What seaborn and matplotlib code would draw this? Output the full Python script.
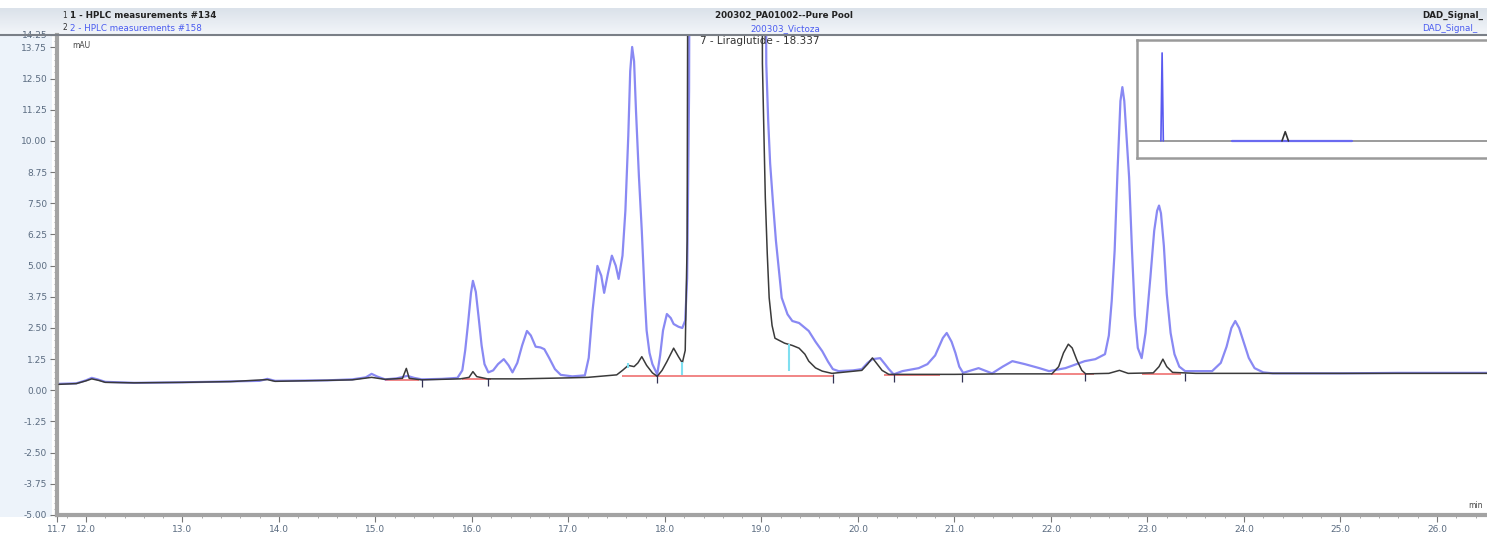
import numpy as np
import pandas as pd
import seaborn as sns
import matplotlib.pyplot as plt
from matplotlib.patches import Rectangle
from matplotlib.ticker import FixedLocator, MultipleLocator

# --- data (time in min, signal in mAU) ---
# trace 2: HPLC measurements #158 (200303_Victoza), blue
victoza_t = [11.72, 11.90, 12.00, 12.06, 12.12, 12.20, 12.50, 13.00, 13.50, 13.80,
             13.88, 13.96, 14.50, 14.76, 14.90, 14.96, 15.02, 15.10, 15.22, 15.33,
             15.40, 15.48, 15.69, 15.85, 15.90, 15.93, 15.96, 15.99, 16.01, 16.04,
             16.07, 16.10, 16.13, 16.17, 16.22, 16.27, 16.33, 16.38, 16.42, 16.47,
             16.52, 16.57, 16.61, 16.66, 16.71, 16.75, 16.80, 16.86, 16.92, 17.04,
             17.17, 17.21, 17.25, 17.30, 17.34, 17.37, 17.41, 17.45, 17.49, 17.52,
             17.56, 17.59, 17.62, 17.64, 17.66, 17.68, 17.70, 17.73, 17.76, 17.79,
             17.81, 17.84, 17.87, 17.92, 17.95, 17.98, 18.02, 18.06, 18.09, 18.14,
             18.18, 18.21, 18.23, 18.25, 18.27, 19.02, 19.05, 19.07, 19.09, 19.12,
             19.15, 19.21, 19.27, 19.32, 19.39, 19.49, 19.56, 19.63, 19.69, 19.74,
             19.80, 19.95, 20.04, 20.10, 20.15, 20.23, 20.28, 20.32, 20.37, 20.46,
             20.63, 20.72, 20.80, 20.88, 20.92, 20.97, 21.01, 21.05, 21.09, 21.25,
             21.39, 21.50, 21.60, 21.73, 21.88, 21.98, 22.15, 22.35, 22.46, 22.56,
             22.60, 22.63, 22.66, 22.69, 22.72, 22.74, 22.76, 22.79, 22.81, 22.84,
             22.87, 22.90, 22.94, 22.98, 23.03, 23.07, 23.10, 23.12, 23.14, 23.17,
             23.20, 23.24, 23.28, 23.33, 23.39, 23.67, 23.76, 23.82, 23.87, 23.91,
             23.95, 24.00, 24.05, 24.11, 24.20, 24.30, 25.00, 25.60, 26.54]
victoza_mau = [0.26, 0.28, 0.40, 0.50, 0.44, 0.34, 0.30, 0.32, 0.36, 0.38,
               0.46, 0.38, 0.40, 0.44, 0.52, 0.66, 0.55, 0.44, 0.48, 0.58,
               0.50, 0.44, 0.46, 0.50, 0.80, 1.60, 2.70, 3.90, 4.39, 3.95,
               2.90, 1.80, 1.05, 0.72, 0.80, 1.05, 1.25, 1.00, 0.72, 1.10,
               1.80, 2.38, 2.20, 1.75, 1.72, 1.65, 1.30, 0.85, 0.62, 0.56,
               0.60, 1.30, 3.20, 4.99, 4.60, 3.91, 4.70, 5.40, 5.00, 4.47,
               5.40, 7.20, 10.20, 12.80, 13.77, 13.20, 11.20, 8.60, 6.40, 3.80,
               2.40, 1.50, 1.05, 0.64, 1.40, 2.40, 3.06, 2.90, 2.66, 2.55,
               2.50, 2.80, 4.50, 12.00, 40.00, 40.00, 13.10, 10.80, 9.10, 7.50,
               6.00, 3.71, 3.05, 2.78, 2.70, 2.38, 1.95, 1.57, 1.15, 0.85,
               0.77, 0.80, 0.85, 1.10, 1.25, 1.29, 1.05, 0.85, 0.64, 0.77,
               0.89, 1.05, 1.40, 2.10, 2.30, 1.95, 1.50, 0.95, 0.70, 0.89,
               0.68, 0.95, 1.17, 1.05, 0.89, 0.77, 0.89, 1.17, 1.25, 1.45,
               2.20, 3.60, 5.60, 8.80, 11.60, 12.16, 11.60, 9.80, 8.54, 5.60,
               3.00, 1.70, 1.29, 2.30, 4.51, 6.40, 7.20, 7.41, 7.10, 5.80,
               3.87, 2.30, 1.45, 0.95, 0.77, 0.77, 1.10, 1.75, 2.50, 2.78,
               2.50, 1.90, 1.30, 0.89, 0.72, 0.68, 0.68, 0.70, 0.70]

# trace 1: HPLC measurements #134 (200302_PA01002--Pure Pool), dark grey
pool_t = [11.72, 11.90, 12.00, 12.06, 12.13, 12.20, 12.50, 13.00, 13.50, 13.88,
          13.96, 14.50, 14.76, 14.96, 15.10, 15.28, 15.32, 15.35, 15.48, 15.88,
          15.97, 16.01, 16.05, 16.16, 16.50, 17.00, 17.20, 17.50, 17.56, 17.62,
          17.68, 17.72, 17.76, 17.81, 17.87, 17.92, 17.97, 18.02, 18.09, 18.14,
          18.18, 18.21, 18.23, 18.25, 19.00, 19.01, 19.03, 19.04, 19.06, 19.08,
          19.11, 19.14, 19.24, 19.32, 19.39, 19.45, 19.49, 19.56, 19.63, 19.73,
          20.04, 20.10, 20.15, 20.19, 20.25, 20.32, 20.50, 21.00, 21.50, 22.01,
          22.08, 22.13, 22.18, 22.22, 22.27, 22.32, 22.36, 22.60, 22.71, 22.80,
          23.06, 23.12, 23.16, 23.20, 23.26, 23.50, 24.50, 26.54]
pool_mau = [0.24, 0.27, 0.38, 0.46, 0.40, 0.32, 0.30, 0.32, 0.35, 0.43,
            0.36, 0.40, 0.42, 0.52, 0.44, 0.48, 0.88, 0.48, 0.42, 0.46,
            0.52, 0.75, 0.55, 0.46, 0.46, 0.50, 0.52, 0.62, 0.80, 1.00,
            0.95, 1.10, 1.35, 1.00, 0.70, 0.56, 0.80, 1.15, 1.69, 1.35,
            1.10, 1.60, 6.00, 40.00, 40.00, 13.10, 9.50, 7.73, 5.50, 3.71,
            2.60, 2.09, 1.89, 1.80, 1.69, 1.45, 1.17, 0.90, 0.77, 0.68,
            0.80, 1.05, 1.30, 1.10, 0.80, 0.64, 0.64, 0.64, 0.66, 0.66,
            0.95, 1.50, 1.85, 1.70, 1.20, 0.80, 0.66, 0.68, 0.80, 0.68,
            0.70, 0.95, 1.25, 0.95, 0.72, 0.68, 0.68, 0.68]

# integration baselines (red) and peak markers
red_start = [15.10, 15.90, 17.55, 20.27, 22.00, 22.94]
red_end = [15.45, 16.20, 19.75, 20.85, 22.45, 23.35]
red_level = [0.42, 0.46, 0.58, 0.62, 0.66, 0.66]
cyan_t = [17.62, 18.18, 19.29]
cyan_low = [0.90, 0.62, 0.77]
cyan_high = [1.10, 1.15, 1.85]
delim_t = [15.48, 16.17, 17.92, 19.74, 20.37, 21.08, 22.35, 23.39]
delim_level = [0.42, 0.46, 0.58, 0.60, 0.62, 0.64, 0.66, 0.66]

# overview inset (whole run)
inset_spike_t = [2.95, 3.10, 3.25]
inset_spike_v = [0, 950, 0]
inset_window_t = [11.7, 26.5]
inset_window_v = [0, 0]
inset_pool_t = [17.9, 18.3, 18.7]
inset_pool_v = [0, 100, 0]

y_ticks = [-5.0, -3.75, -2.5, -1.25, 0.0, 1.25, 2.5, 3.75, 5.0, 6.25, 7.5,
           8.75, 10.0, 11.25, 12.5, 13.75, 14.25]
x_ticks = [11.7, 12.0, 13.0, 14.0, 15.0, 16.0, 17.0, 18.0, 19.0, 20.0, 21.0,
           22.0, 23.0, 24.0, 25.0, 26.0]

sns.set_style("white")
plt.rcParams['font.family'] = ['DejaVu Sans']

W, H = 1487, 539
fig = plt.figure(figsize=(W / 100, H / 100), dpi=100)

# light blue panel behind the y labels
bg = fig.add_axes([0, 22 / H, 52 / W, (H - 22 - 33) / H], zorder=-5)
bg.set_facecolor('#edf3fa')
bg.set_xticks([])
bg.set_yticks([])
for s in bg.spines.values():
    s.set_visible(False)

# header strip with gradient
hax = fig.add_axes([0, 1 - 35 / H, 1, 27 / H], zorder=-4)
grad = np.linspace(0, 1, 50).reshape(-1, 1)
hax.imshow(grad, aspect='auto', cmap=sns.blend_palette(['#dbe2ea', '#f3f6fa'], as_cmap=True),
           extent=[0, 1, 0, 1])
hax.set_axis_off()
fig.add_artist(plt.Line2D([0, 1], [1 - 35 / H, 1 - 35 / H], color='#7a7f87', lw=1.5,
                          transform=fig.transFigure))

ax = fig.add_axes([57 / W, 24 / H, (W - 57) / W, (515 - 35) / H])
sns.lineplot(x=victoza_t, y=victoza_mau, ax=ax, color='#7c7cf2', lw=1.6,
             sort=False, estimator=None, alpha=0.9, zorder=2)
sns.lineplot(x=pool_t, y=pool_mau, ax=ax, color='#3a3a3a', lw=1.1,
             sort=False, estimator=None, zorder=3)
ax.hlines(red_level, red_start, red_end, color='#f07c7c', lw=1.3, zorder=1)
ax.vlines(cyan_t, cyan_low, cyan_high, color='#7fdff0', lw=1.5, zorder=4)
ax.vlines(delim_t, np.array(delim_level) - 0.3, np.array(delim_level) + 0.05,
          color='#333355', lw=0.9, zorder=4)

ax.set_xlim(11.7, 11.7 + (W - 57) / 96.5)
ax.set_ylim(-5.0, 14.25)
ax.yaxis.set_major_locator(FixedLocator(y_ticks))
ax.yaxis.set_minor_locator(MultipleLocator(0.25))
ax.xaxis.set_major_locator(FixedLocator(x_ticks))
ax.xaxis.set_minor_locator(MultipleLocator(0.2))
ax.set_yticklabels([f"{v:.2f}" for v in y_ticks])
ax.set_xticklabels([f"{v:.1f}" for v in x_ticks])
ax.tick_params(axis='both', which='major', labelsize=6.5, labelcolor='#5a6b80',
               color='#777777', length=5, width=0.8, left=True, bottom=True, pad=2)
ax.tick_params(axis='both', which='minor', color='#999999', length=2.5, width=0.6,
               left=True, bottom=True)
for s in ['top', 'right']:
    ax.spines[s].set_visible(False)
for s in ['left', 'bottom']:
    ax.spines[s].set_color('#a3a3a3')
    ax.spines[s].set_linewidth(3)
ax.set_xlabel('')
ax.set_ylabel('')
ax.patch.set_facecolor('white')

ax.text(18.36, 14.0, "7 - Liraglutide - 18.337", fontsize=7.5, color='#333333',
        va='center', ha='left')
fig.text(72 / W, 1 - 45 / H, "mAU", fontsize=5.5, color='#444444', va='center')
fig.text(1468 / W, 1 - 505 / H, "min", fontsize=5.5, color='#444444', va='center')

# header texts
fig.text(62 / W, 1 - 15 / H, "1", fontsize=5.5, color='#333333', va='center')
fig.text(62 / W, 1 - 28 / H, "2", fontsize=5.5, color='#333333', va='center')
fig.text(70 / W, 1 - 15.5 / H, "1 - HPLC measurements #134", fontsize=6.3,
         color='#222222', weight='bold', va='center')
fig.text(70 / W, 1 - 28.5 / H, "2 - HPLC measurements #158", fontsize=6.3,
         color='#4a5cf0', va='center')
fig.text(784 / W, 1 - 15.5 / H, "200302_PA01002--Pure Pool", fontsize=6.3,
         color='#222222', weight='bold', va='center', ha='center')
fig.text(785 / W, 1 - 28.5 / H, "200303_Victoza", fontsize=6.3,
         color='#4a5cf0', va='center', ha='center')
fig.text(1422 / W, 1 - 15.5 / H, "DAD_Signal_", fontsize=6.3,
         color='#222222', weight='bold', va='center')
fig.text(1422 / W, 1 - 28.5 / H, "DAD_Signal_", fontsize=6.3,
         color='#4a5cf0', va='center')

# overview inset
iax = fig.add_axes([1137 / W, 1 - 158 / H, 360 / W, 118 / H])
iax.set_xlim(0, 360 / 8.1)
iax.set_ylim(-184, 1090)
iax.axhline(0, color='#8a8a8a', lw=1.2, zorder=1)
sns.lineplot(x=inset_spike_t, y=inset_spike_v, ax=iax, color='#5a5af0', lw=1.2,
             sort=False, estimator=None)
sns.lineplot(x=inset_window_t, y=inset_window_v, ax=iax, color='#6a6af0', lw=1.6,
             sort=False, estimator=None)
sns.lineplot(x=inset_pool_t, y=inset_pool_v, ax=iax, color='#333333', lw=1.2,
             sort=False, estimator=None)
iax.set_xticks([])
iax.set_yticks([])
iax.set_xlabel('')
iax.set_ylabel('')
for s in iax.spines.values():
    s.set_color('#9a9a9a')
    s.set_linewidth(1.8)
iax.patch.set_facecolor('white')

fig.savefig("out.png", dpi=100)
